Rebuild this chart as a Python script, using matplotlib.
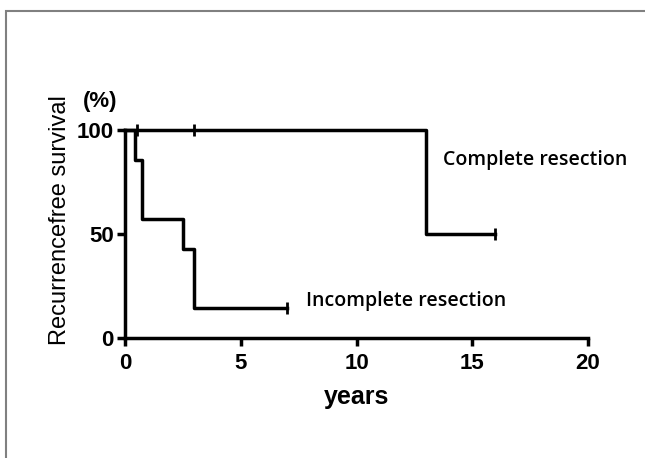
import matplotlib.pyplot as plt
from matplotlib.patches import Rectangle

# Kaplan-Meier step curves (years, % recurrence free)
complete_t = [0, 13, 13, 16]
complete_s = [100, 100, 50, 50]
complete_cens_t = [0.5, 3, 16]
complete_cens_s = [100, 100, 50]

incomplete_t = [0, 0.45, 0.45, 0.75, 0.75, 2.5, 2.5, 3.0, 3.0, 7]
incomplete_s = [100, 100, 85.7, 85.7, 57.1, 57.1, 42.9, 42.9, 14.3, 14.3]
incomplete_cens_t = [7]
incomplete_cens_s = [14.3]

x_ticks = [0, 5, 10, 15, 20]
y_ticks = [0, 50, 100]


def main():
    fig = plt.figure(figsize=(6.45, 4.58), dpi=100)
    fig.patches.append(Rectangle((6 / 645, -0.1), 1.2, 1 - 11 / 458 + 0.1,
                                 transform=fig.transFigure, fill=False,
                                 edgecolor='#808080', linewidth=1.5))
    ax = fig.add_axes([125 / 645, 1 - 338 / 458, 463 / 645, 208 / 458])

    ax.plot(complete_t, complete_s, color='black', lw=2.5, clip_on=False)
    ax.plot(incomplete_t, incomplete_s, color='black', lw=2.5, clip_on=False)
    ax.plot(complete_cens_t, complete_cens_s, ls='none', marker='|',
            ms=8, mew=2, color='black', clip_on=False)
    ax.plot(incomplete_cens_t, incomplete_cens_s, ls='none', marker='|',
            ms=8, mew=2, color='black', clip_on=False)

    ax.set_xlim(0, 20)
    ax.set_ylim(0, 100)
    ax.set_xticks(x_ticks)
    ax.set_yticks(y_ticks)
    for side in ['top', 'right']:
        ax.spines[side].set_visible(False)
    for side in ['left', 'bottom']:
        ax.spines[side].set_linewidth(2.5)
    ax.tick_params(width=2.5, length=6, direction='out', pad=2)
    ax.tick_params(axis='x', pad=5)
    for lbl in ax.get_xticklabels() + ax.get_yticklabels():
        lbl.set_fontfamily('Liberation Sans')
        lbl.set_fontweight('bold')
        lbl.set_fontsize(16)

    ax.set_xlabel('years', fontfamily='Liberation Sans', fontweight='bold',
                  fontsize=18, labelpad=8)
    ax.set_ylabel('Recurrencefree survival', fontfamily='Liberation Sans',
                  fontsize=17)
    ax.yaxis.set_label_coords(-0.117, 0.567)
    ax.text(-0.053, 1.135, '(%)', transform=ax.transAxes, ha='center',
            va='center', fontfamily='Liberation Sans', fontweight='bold',
            fontsize=16)

    ax.text(13.75, 85.6, 'Complete resection', fontfamily='Open Sans',
            fontweight='semibold', fontsize=14, va='center')
    ax.text(7.8, 17.8, 'Incomplete resection', fontfamily='Open Sans',
            fontweight='semibold', fontsize=14, va='center')

    fig.savefig('out.png', dpi=100)


if __name__ == '__main__':
    main()
